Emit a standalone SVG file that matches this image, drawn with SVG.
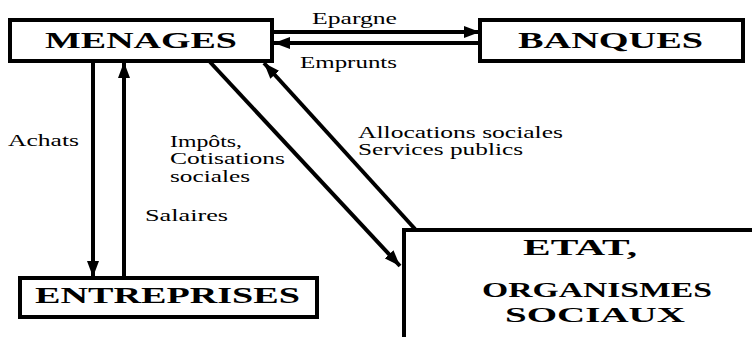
<svg xmlns="http://www.w3.org/2000/svg" width="752" height="337" viewBox="0 0 752 337">
<defs>
<marker id="ah" viewBox="0 0 16 12" refX="16" refY="6" markerWidth="16" markerHeight="12" markerUnits="userSpaceOnUse" orient="auto">
<path d="M0,0 L16,6 L0,12 Z" fill="#000"/>
</marker>
</defs>
<style>
.box{fill:#fff;stroke:#000;stroke-width:4}
.big{font-family:'Liberation Serif','Times New Roman',serif;font-weight:bold;font-size:24px;fill:#000}
.sm{font-size:21px}
.lbl{font-family:'Liberation Serif','Times New Roman',serif;font-size:16px;fill:#000}
.c{fill:none;stroke:#000;stroke-width:4;marker-end:url(#ah)}
</style>
<rect width="752" height="337" fill="#fff"/>
<g id="connectors">
<line class="c" x1="272" y1="32" x2="480" y2="32"/>
<line class="c" x1="480" y1="43" x2="274" y2="43"/>
<line class="c" x1="93" y1="62" x2="93" y2="277"/>
<line class="c" x1="124" y1="277" x2="124" y2="62"/>
<line class="c" x1="210" y1="62" x2="400" y2="266"/>
<line class="c" x1="415" y1="229" x2="264" y2="63"/>
</g>
<g id="labels">
<text class="lbl" x="312" y="24" textLength="85" lengthAdjust="spacingAndGlyphs">Epargne</text>
<text class="lbl" x="300" y="68" textLength="97" lengthAdjust="spacingAndGlyphs">Emprunts</text>
<text class="lbl" x="8" y="146" textLength="71" lengthAdjust="spacingAndGlyphs">Achats</text>
<text class="lbl" x="145" y="221" textLength="83" lengthAdjust="spacingAndGlyphs">Salaires</text>
<text class="lbl" x="170" y="147" textLength="72" lengthAdjust="spacingAndGlyphs">Impôts,</text>
<text class="lbl" x="170" y="164" textLength="115" lengthAdjust="spacingAndGlyphs">Cotisations</text>
<text class="lbl" x="170" y="182" textLength="80" lengthAdjust="spacingAndGlyphs">sociales</text>
<text class="lbl" x="358" y="138" textLength="205" lengthAdjust="spacingAndGlyphs">Allocations sociales</text>
<text class="lbl" x="358" y="155" textLength="165" lengthAdjust="spacingAndGlyphs">Services publics</text>
</g>
<g id="menages">
<rect class="box" x="10" y="20" width="262" height="41"/>
<text class="big" x="45" y="48" textLength="192" lengthAdjust="spacingAndGlyphs">MENAGES</text>
</g>
<g id="banques">
<rect class="box" x="480" y="20" width="263" height="41"/>
<text class="big" x="518" y="48" textLength="185" lengthAdjust="spacingAndGlyphs">BANQUES</text>
</g>
<g id="entreprises">
<rect class="box" x="20" y="278" width="297" height="39"/>
<text class="big" x="35" y="303" textLength="265" lengthAdjust="spacingAndGlyphs">ENTREPRISES</text>
</g>
<g id="etat">
<path d="M404,339 V230 H754" fill="#fff" stroke="#000" stroke-width="4"/>
<text class="big" x="523" y="255" textLength="114" lengthAdjust="spacingAndGlyphs">ETAT,</text>
<text class="big sm" x="482" y="297" textLength="230" lengthAdjust="spacingAndGlyphs">ORGANISMES</text>
<text class="big sm" x="505" y="322" textLength="180" lengthAdjust="spacingAndGlyphs">SOCIAUX</text>
</g>
</svg>
